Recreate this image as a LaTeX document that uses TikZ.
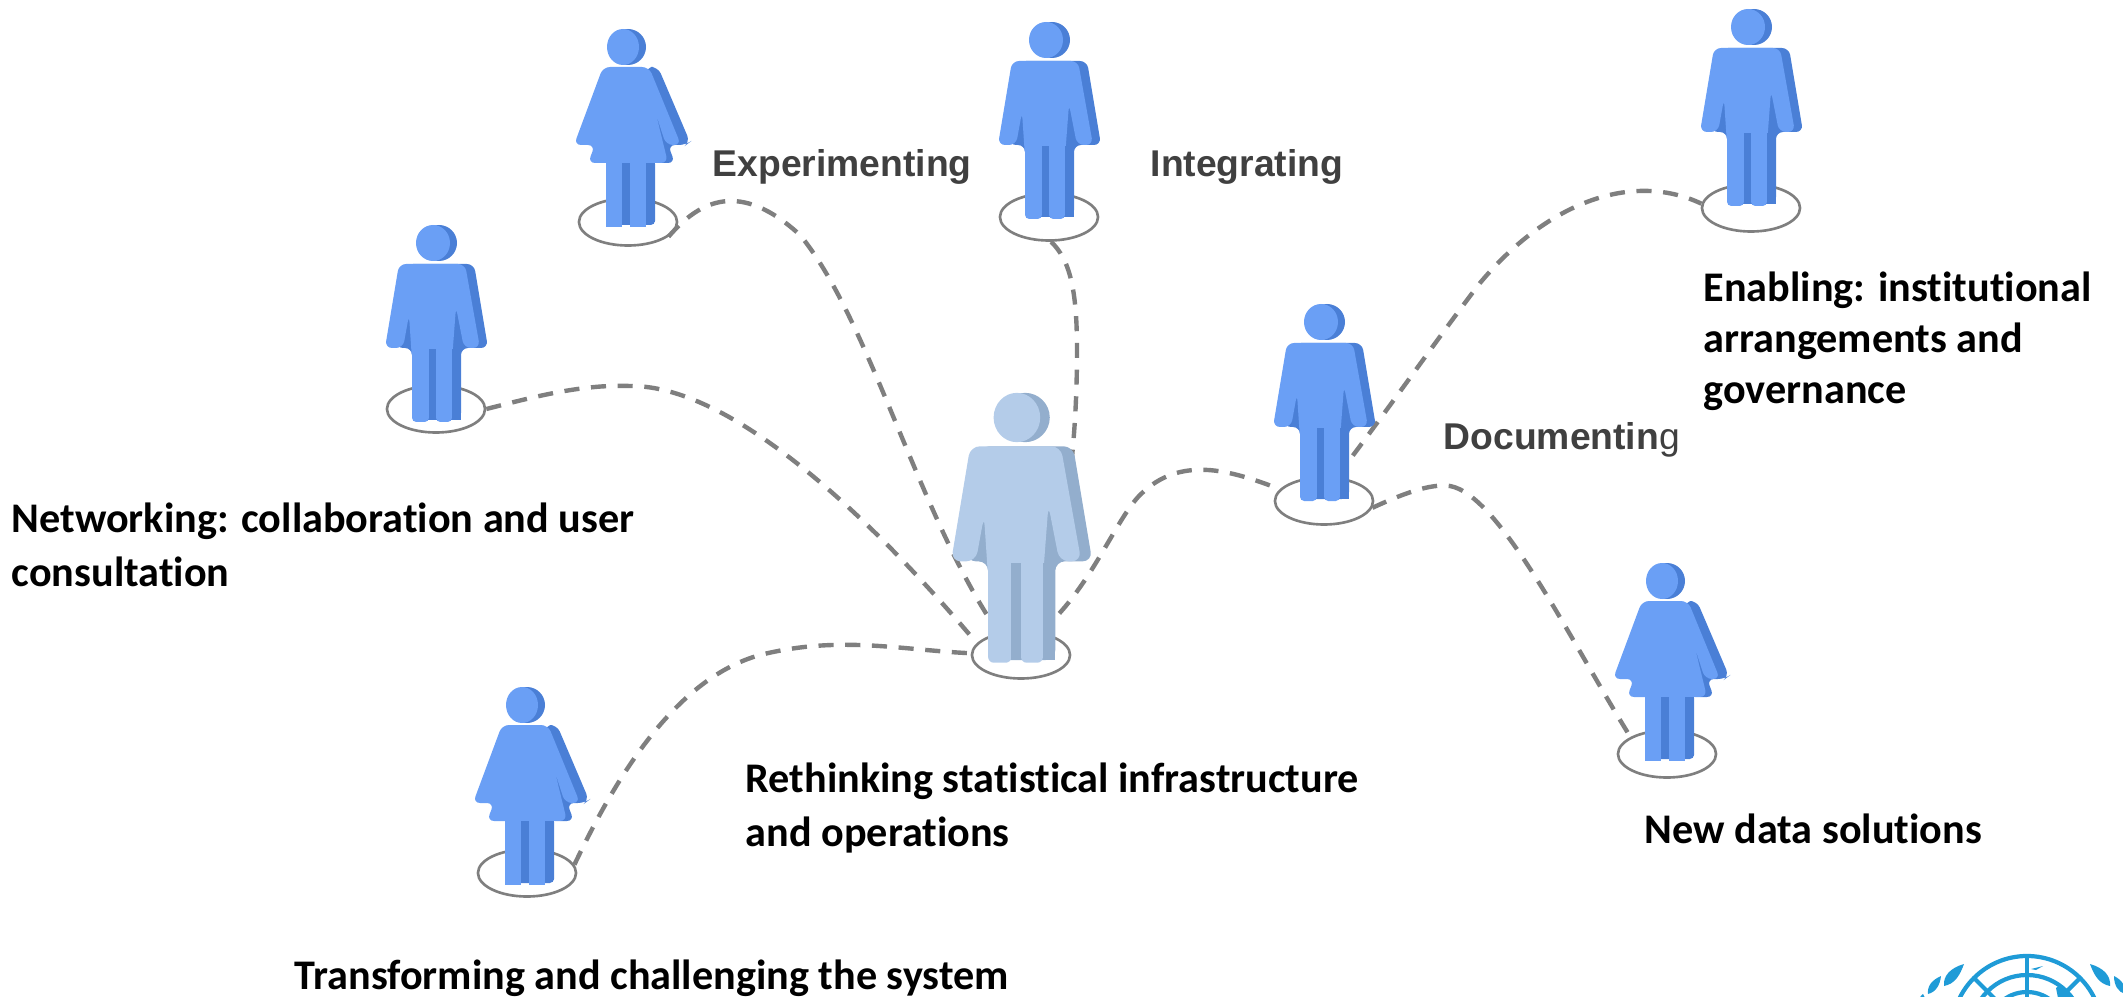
\documentclass[tikz,border=0pt]{standalone}
\usepackage{fontspec}
\setmainfont[Ligatures=NoCommon]{Carlito}
\newfontfamily\labelfont{Liberation Sans}
\usetikzlibrary{shapes.geometric}
\definecolor{figlight}{HTML}{6A9FF5}
\definecolor{figdark}{HTML}{4A7FD6}
\definecolor{hublight}{HTML}{B4CCE9}
\definecolor{hubdark}{HTML}{93AECD}
\definecolor{linkgrey}{HTML}{7F7F7F}
\definecolor{labelgrey}{HTML}{404040}
\definecolor{logoblue}{HTML}{1F9BD7}
\tikzset{
	footring/.style={draw=linkgrey,ellipse,line width=0.75pt,minimum width=0.98cm,minimum height=0.47cm,inner sep=0pt},
	linkline/.style={draw=linkgrey,line width=1.25pt,dash pattern=on 4.3pt off 3.3pt},
	boldtext/.style={anchor=base west,inner sep=0pt,font=\fontsize{12pt}{14.5pt}\selectfont\bfseries,align=left},
	greytext/.style={anchor=base west,inner sep=0pt,text=labelgrey,font=\labelfont\fontsize{10.6pt}{13pt}\selectfont\bfseries},
	logoline/.style={draw=logoblue,line width=1.2pt}
}
%#1,#2 feet position, #3 scale, #4 face colour, #5 side colour
\newcommand{\manFig}[5]{
	\begin{scope}[shift={(#1,#2)},scale=#3]
		%head
		\fill[#5] (3,-177) ellipse (18 and 18);
		\fill[#4] (-3,-177) ellipse (17 and 18);
		%side of the body
		\fill[#5,rounded corners=#3*2pt] (-30,-156) -- (38,-156) -- (52,-72) -- (25,-72) -- (25,0) -- (-24,0) -- (-24,-72) -- (-40,-72) -- cycle;
		%front of the body
		\fill[#4,rounded corners=#3*2pt] (-37,-156) -- (29,-156) -- (44,-72) -- (28,-72) -- (20,-113) -- (16,-60) -- (-24,-60) -- (-27,-105) -- (-33,-72) -- (-51,-72) -- cycle;
		\fill[#4,rounded corners=#3*1.2pt] (-24,-85) -- (-7,-85) -- (-7,2) -- (-24,2) -- cycle;
		\fill[#4,rounded corners=#3*1.2pt] (0,-85) -- (16,-85) -- (16,2) -- (0,2) -- cycle;
		\fill[#5] (-7,-71) rectangle (0,0);
		\fill[#5] (16,-71) rectangle (25,0);
	\end{scope}
}
\newcommand{\womanFig}[5]{
	\begin{scope}[shift={(#1,#2)},scale=#3]
		%head
		\fill[#5] (0,-175) ellipse (18 and 18);
		\fill[#4] (-5,-175) ellipse (16 and 18);
		%side of the body
		\fill[#5,rounded corners=#3*2pt] (18,-155) -- (30,-155) -- (62,-80) -- (58,-77) -- (40,-77) -- (47,-59) -- (26,-59) -- cycle;
		\fill[#5,rounded corners=#3*1.2pt] (-22,-62) -- (27,-62) -- (27,3) -- (-22,3) -- cycle;
		%front of the body
		\fill[#4,rounded corners=#3*2pt] (-25,-155) -- (21,-155) -- (53,-77) -- (38,-77) -- (28,-108) -- (40,-59) -- (-40,-59) -- (-33,-77) -- (-54,-77) -- cycle;
		\fill[#4] (-22,-62) -- (-6,-62) -- (-6,5) -- (-22,5) -- cycle;
		\fill[#4] (2,-62) -- (18,-62) -- (18,5) -- (2,5) -- cycle;
		\fill[#5] (-6,-59) rectangle (2,0);
		\fill[#5] (18,-59) rectangle (27,0);
	\end{scope}
}
\begin{document}
\begin{tikzpicture}[x=0.01cm,y=-0.01cm]
	\useasboundingbox (0,0) rectangle (2123,997);

	%rings under the figures
	\node[footring] (ringNet) at (436,409) {};
	\node[footring] (ringExp) at (628,222) {};
	\node[footring] (ringInt) at (1049,217) {};
	\node[footring] (ringEna) at (1751,208) {};
	\node[footring] (ringDoc) at (1324,501) {};
	\node[footring] (ringNew) at (1667,754) {};
	\node[footring] (ringTra) at (527,873) {};
	\node[footring] (ringHub) at (1021,655) {};

	%dashed links
	\draw[linkline] (ringNet.0) .. controls (530,398) and (580,384) .. (630,386) .. controls (740,385) and (890,540) .. (ringHub.165);
	\draw[linkline] (ringExp.-20) .. controls (700,200) and (740,180) .. (800,235) .. controls (870,320) and (920,520) .. (ringHub.135);
	\draw[linkline] (ringInt.-85) .. controls (1070,260) and (1077,290) .. (1077,350) .. controls (1077,450) and (1065,560) .. (ringHub.75);
	\draw[linkline] (ringTra.10) .. controls (610,790) and (670,680) .. (760,655) .. controls (840,635) and (900,650) .. (ringHub.178);
	\draw[linkline] (ringHub.50) .. controls (1090,590) and (1115,520) .. (1140,495) .. controls (1180,455) and (1230,470) .. (ringDoc.165);
	\draw[linkline] (ringDoc.62) .. controls (1395,400) and (1440,335) .. (1480,283) .. controls (1545,205) and (1630,170) .. (ringEna.175);
	\draw[linkline] (ringDoc.-8) .. controls (1400,495) and (1430,483) .. (1450,486) .. controls (1500,495) and (1570,640) .. (ringNew.155);

	%figures
	\manFig{436}{420}{1}{figlight}{figdark}
	\womanFig{628}{222}{1}{figlight}{figdark}
	\manFig{1049}{217}{1}{figlight}{figdark}
	\manFig{1751}{204}{1}{figlight}{figdark}
	\manFig{1324}{499}{1}{figlight}{figdark}
	\womanFig{1667}{756}{1}{figlight}{figdark}
	\womanFig{527}{880}{1}{figlight}{figdark}
	\manFig{1021}{660}{1.37}{hublight}{hubdark}

	%labels
	\node[boldtext] (txtNet) at (11,586) {Networking: collaboration and user\\[0.6pt]consultation};
	\node[boldtext] (txtHub) at (745,846) {Rethinking statistical infrastructure\\[0.8pt]and operations};
	\node[boldtext] (txtTra) at (294,989) {Transforming and challenging the system};
	\node[boldtext] (txtNew) at (1644,843) {New data solutions};
	\node[boldtext] (txtEna) at (1703,403) {Enabling: institutional\\arrangements and\\governance};
	\node[greytext] (txtExp) at (712,177) {Experimenting};
	\node[greytext] (txtInt) at (1150,177) {Integrating};
	\node[greytext] (txtDoc) at (1443,449) {Documentin{\mdseries g}};

	%corner of the emblem
	\begin{scope}
		\clip (1900,940) rectangle (2123,997);
		\draw[logoline] (2027,1031) circle (75);
		\draw[logoline] (2027,1031) circle (56);
		\draw[logoline] (2027,1031) circle (39);
		\draw[logoline] (2027,956) -- (2027,1031);
		\draw[logoline] (1974,978) -- (2027,1031);
		\draw[logoline] (2080,978) -- (2027,1031);
		\fill[logoblue] (1964,964) .. controls (1950,968) and (1943,976) .. (1944,986) .. controls (1955,984) and (1960,975) .. cycle;
		\fill[logoblue] (1941,976) .. controls (1932,980) and (1927,986) .. (1928,994) .. controls (1936,992) and (1940,985) .. cycle;
		\fill[logoblue] (1923,994) .. controls (1921,995) and (1920,997) .. (1920,998) -- (1925,998) -- cycle;
		\fill[logoblue] (2090,964) .. controls (2104,968) and (2111,976) .. (2110,986) .. controls (2099,984) and (2094,975) .. cycle;
		\fill[logoblue] (2114,976) .. controls (2122,980) and (2126,986) .. (2125,994) .. controls (2118,992) and (2114,985) .. cycle;
		\fill[logoblue] (2056,988) .. controls (2062,982) and (2068,990) .. (2074,998) -- (2058,998) -- cycle;
		\fill[logoblue] (2031,969) -- (2043,966) -- (2036,970) -- cycle;
	\end{scope}
\end{tikzpicture}
\end{document}
